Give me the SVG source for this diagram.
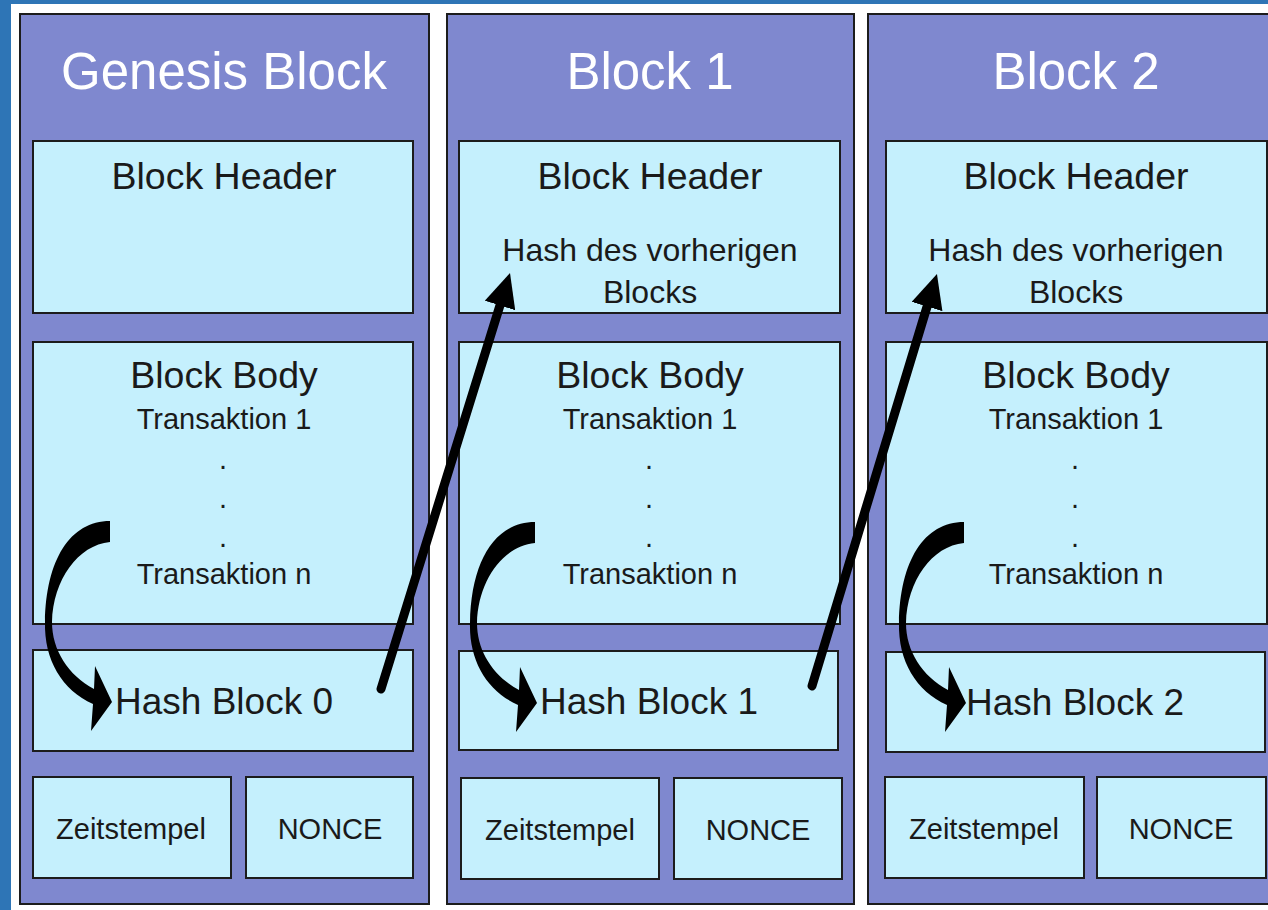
<svg xmlns="http://www.w3.org/2000/svg" xmlns:xlink="http://www.w3.org/1999/xlink" width="1268" height="910" viewBox="0 0 1268 910">
  <style>
    .col { fill: #7f88cf; stroke: #1c1c1c; stroke-width: 2; }
    .box { fill: #c5f0fd; stroke: #1c1c1c; stroke-width: 2; }
    text { font-family: "Liberation Sans", Arial, sans-serif; fill: #1a1a1a; text-anchor: middle; }
    .title { fill: #ffffff; font-size: 51px; }
    .h { font-size: 37.5px; }
    .sub { font-size: 32px; }
    .t { font-size: 29px; }
    .hash { font-size: 37px; text-anchor: start; }
    .link { fill: none; stroke: #000; stroke-width: 9; stroke-linecap: round; }
  </style>
  <defs>
    <marker id="head" markerUnits="userSpaceOnUse" viewBox="0 0 34 32" refX="9" refY="16" markerWidth="34" markerHeight="32" orient="auto">
      <path d="M0,0 L34,16 L0,32 Z" fill="#000"/>
    </marker>
    <!-- curved block arrow from the body down into the hash field -->
    <path id="curl" d="M110,521 L110,542 C78,545 53,580 52,622 C52,650 68,675 94,689 L95,666 L112,702 L91,731 L93,704 C62,690 44,660 45,622 C46,560 70,521 110,521 Z" fill="#000"/>
  </defs>

  <!-- backdrop -->
  <rect x="0" y="0" width="1268" height="910" fill="#2e75b6"/>
  <rect x="11" y="4" width="1257" height="906" fill="#ffffff"/>

  <!-- Genesis block -->
  <g id="block-genesis">
    <rect class="col" x="20" y="14" width="409" height="890"/>
    <text class="title" x="224" y="89">Genesis Block</text>
    <g id="genesis-header">
      <rect class="box" x="33" y="141" width="380" height="172"/>
      <text class="h" x="224" y="189">Block Header</text>
    </g>
    <g id="genesis-body">
      <rect class="box" x="33" y="342" width="380" height="282"/>
      <text class="h" x="224" y="388">Block Body</text>
      <text class="t" x="224" y="429">Transaktion 1</text>
      <text class="t" x="223" y="469">.</text>
      <text class="t" x="223" y="508">.</text>
      <text class="t" x="223" y="547">.</text>
      <text class="t" x="224" y="584">Transaktion n</text>
    </g>
    <g id="genesis-hash">
      <rect class="box" x="33" y="650" width="380" height="101"/>
      <text class="hash" x="115" y="714">Hash Block 0</text>
    </g>
    <g id="genesis-time">
      <rect class="box" x="33" y="777" width="198" height="101"/>
      <text class="t" x="131" y="839">Zeitstempel</text>
    </g>
    <g id="genesis-nonce">
      <rect class="box" x="246" y="777" width="167" height="101"/>
      <text class="t" x="330" y="839">NONCE</text>
    </g>
  </g>

  <!-- Block 1 -->
  <g id="block-1">
    <rect class="col" x="447" y="14" width="407" height="890"/>
    <text class="title" x="650" y="89">Block 1</text>
    <g id="block1-header">
      <rect class="box" x="459" y="141" width="381" height="172"/>
      <text class="h" x="650" y="189">Block Header</text>
      <text class="sub" x="650" y="261">Hash des vorherigen</text>
      <text class="sub" x="650" y="303">Blocks</text>
    </g>
    <g id="block1-body">
      <rect class="box" x="459" y="342" width="381" height="282"/>
      <text class="h" x="650" y="388">Block Body</text>
      <text class="t" x="650" y="429">Transaktion 1</text>
      <text class="t" x="649" y="469">.</text>
      <text class="t" x="649" y="508">.</text>
      <text class="t" x="649" y="547">.</text>
      <text class="t" x="650" y="584">Transaktion n</text>
    </g>
    <g id="block1-hash">
      <rect class="box" x="459" y="651" width="379" height="99"/>
      <text class="hash" x="540" y="714">Hash Block 1</text>
    </g>
    <g id="block1-time">
      <rect class="box" x="461" y="778" width="198" height="101"/>
      <text class="t" x="560" y="840">Zeitstempel</text>
    </g>
    <g id="block1-nonce">
      <rect class="box" x="674" y="778" width="168" height="101"/>
      <text class="t" x="758" y="840">NONCE</text>
    </g>
  </g>

  <!-- Block 2 -->
  <g id="block-2">
    <rect class="col" x="868" y="14" width="420" height="890"/>
    <text class="title" x="1076" y="89">Block 2</text>
    <g id="block2-header">
      <rect class="box" x="886" y="141" width="381" height="172"/>
      <text class="h" x="1076" y="189">Block Header</text>
      <text class="sub" x="1076" y="261">Hash des vorherigen</text>
      <text class="sub" x="1076" y="303">Blocks</text>
    </g>
    <g id="block2-body">
      <rect class="box" x="886" y="342" width="381" height="282"/>
      <text class="h" x="1076" y="388">Block Body</text>
      <text class="t" x="1076" y="429">Transaktion 1</text>
      <text class="t" x="1075" y="469">.</text>
      <text class="t" x="1075" y="508">.</text>
      <text class="t" x="1075" y="547">.</text>
      <text class="t" x="1076" y="584">Transaktion n</text>
    </g>
    <g id="block2-hash">
      <rect class="box" x="886" y="652" width="379" height="100"/>
      <text class="hash" x="966" y="715">Hash Block 2</text>
    </g>
    <g id="block2-time">
      <rect class="box" x="885" y="777" width="199" height="101"/>
      <text class="t" x="984" y="839">Zeitstempel</text>
    </g>
    <g id="block2-nonce">
      <rect class="box" x="1097" y="777" width="169" height="101"/>
      <text class="t" x="1181" y="839">NONCE</text>
    </g>
  </g>

  <!-- connectors -->
  <g id="connectors">
    <use xlink:href="#curl"/>
    <use xlink:href="#curl" transform="translate(425,1)"/>
    <use xlink:href="#curl" transform="translate(854,1)"/>
    <path class="link" d="M381,689 L502.6,296.9" marker-end="url(#head)"/>
    <path class="link" d="M812,686 L929.7,297.9" marker-end="url(#head)"/>
  </g>
</svg>
